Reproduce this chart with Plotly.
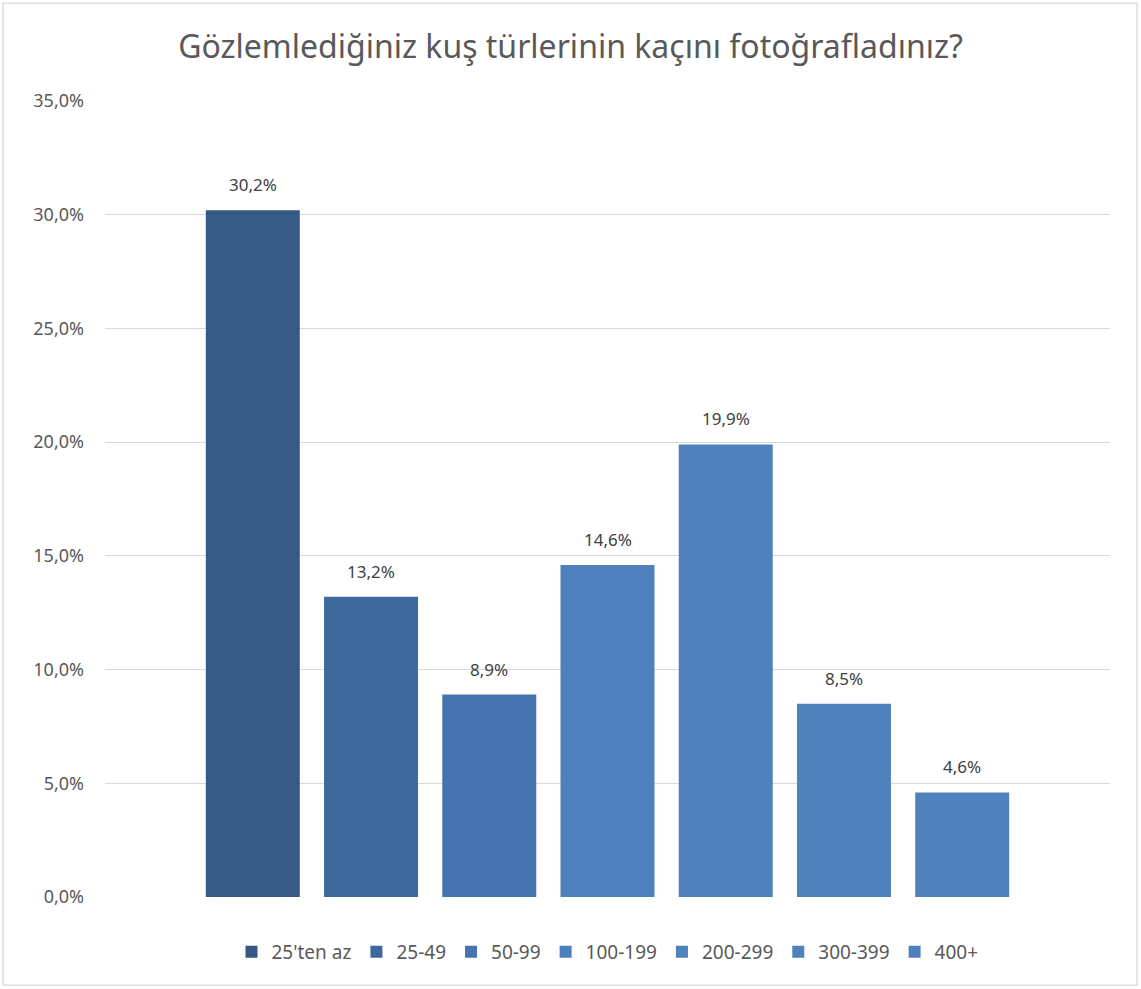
import plotly.graph_objects as go

categories = ["25'ten az", "25-49", "50-99", "100-199", "200-299", "300-399", "400+"]
values = [30.2, 13.2, 8.9, 14.6, 19.9, 8.5, 4.6]
colors = ["#355A86", "#3E699D", "#4574AF", "#4E80BD", "#4F81BD", "#4F81BD", "#4F81BD"]
y_ticks = [0, 5, 10, 15, 20, 25, 30, 35]

fig = go.Figure()
for i, (cat, val, col) in enumerate(zip(categories, values, colors)):
    fig.add_trace(go.Bar(
        x=[i], y=[val], name=cat,
        marker=dict(color=col, line=dict(width=0)),
        width=0.795,
    ))
    # data label sits a bit higher than plotly's "outside" text
    fig.add_annotation(x=i, y=val, text=f"{val:.1f}%".replace(".", ","),
                       showarrow=False, yanchor="bottom", yshift=12,
                       font=dict(size=17, color="#404040"))

fig.update_layout(
    width=1141, height=989,
    separators=",.",
    barmode="overlay",
    paper_bgcolor="white", plot_bgcolor="white",
    font=dict(family="Noto Sans", color="#595959"),
    margin=dict(l=105, r=31, t=101, b=92),
    title=dict(text="Gözlemlediğiniz kuş türlerinin kaçını fotoğrafladınız?",
               x=0.5, xanchor="center", y=0.953, yanchor="middle",
               font=dict(size=32, color="#595959")),
    legend=dict(orientation="h", x=0.5, xanchor="center", y=-0.045, yanchor="top",
                font=dict(size=19, color="#595959"), itemwidth=30,
                traceorder="normal"),
    showlegend=True,
)
fig.update_xaxes(range=[-1.25, 7.25], showticklabels=False, showgrid=False,
                 zeroline=False, showline=False, ticks="")
fig.update_yaxes(range=[0, 35], tickvals=y_ticks,
                 ticktext=[f"{t:.1f}%".replace(".", ",") for t in y_ticks],
                 showgrid=True, gridcolor="#D9D9D9", gridwidth=1.3,
                 zeroline=False, showline=False, ticks="",
                 ticklabelstandoff=20,
                 tickfont=dict(size=18, color="#595959"))
fig.add_shape(type="rect", xref="paper", yref="paper",
              x0=-0.1015, x1=1.0269, y0=-0.1106, y1=1.123,
              line=dict(color="#D9D9D9", width=1.3), layer="below")

fig.write_html("out.html", config={"displayModeBar": False},
               post_script="document.body.style.margin='0';")
